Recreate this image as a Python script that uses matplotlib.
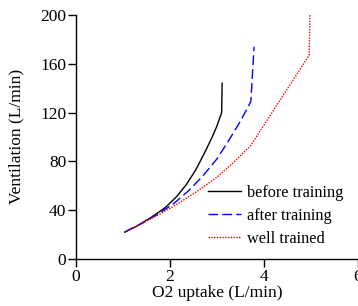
import matplotlib
matplotlib.use('Agg')
import matplotlib.pyplot as plt

plt.rcParams['font.family'] = ['Liberation Serif', 'DejaVu Serif']

# O2 uptake (L/min) and ventilation (L/min)
before_x = [1.04, 1.3, 1.6, 1.9, 2.14, 2.35, 2.55, 2.75, 2.9, 3.0, 3.10, 3.11]
before_y = [22, 27, 34, 42, 51, 61, 73, 88, 100, 109, 120, 144]

after_x = [1.04, 1.4, 1.8, 2.1, 2.4, 2.7, 3.0, 3.25, 3.5, 3.72, 3.79]
after_y = [22, 29, 38, 46, 56, 68, 82, 97, 113, 129, 174]

well_x = [1.04, 1.4, 1.8, 2.2, 2.6, 3.0, 3.35, 3.72, 4.96, 4.98]
well_y = [22, 29, 37, 46, 56, 67, 79, 93, 167, 203]

labels = ['before training', 'after training', 'well trained']

fig = plt.figure(figsize=(3.58, 3.06), dpi=100)
ax = fig.add_axes([0.212, 0.154, 0.788, 0.797])

ax.plot(before_x, before_y, color='black', lw=1.0, label=labels[0])
ax.plot(after_x, after_y, color='blue', lw=1.0, dashes=(7, 3), label=labels[1])
ax.plot(well_x, well_y, color='red', lw=1.0, linestyle=(0, (1, 1)), label=labels[2])

ax.set_xlim(0, 6)
ax.set_ylim(0, 200)
ax.set_xticks([0, 2, 4, 6])
ax.set_yticks([0, 40, 80, 120, 160, 200])

for s in ['top', 'right']:
    ax.spines[s].set_visible(False)
ax.spines['left'].set_linewidth(1.0)
ax.spines['bottom'].set_linewidth(1.0)
ax.tick_params(direction='out', length=6, width=1.0, labelsize=12.5, pad=1)

ax.set_xlabel('O2 uptake (L/min)', fontsize=12.5, labelpad=0)
ax.set_ylabel('Ventilation (L/min)', fontsize=12.5, labelpad=11)

ax.legend(loc='lower right', bbox_to_anchor=(1.0, -0.01), frameon=False, fontsize=11.7,
          handlelength=2.0, handletextpad=0.4, labelspacing=0.42)

fig.savefig('out.png', dpi=100)
